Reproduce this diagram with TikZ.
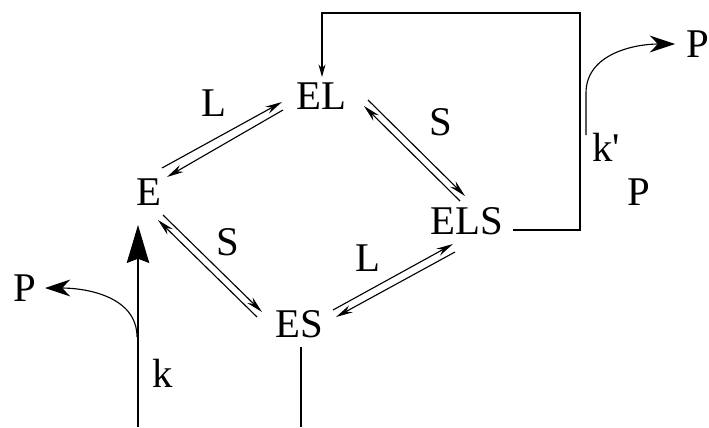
\documentclass[tikz,border=0pt]{standalone}
\usepackage{fontspec}
\setmainfont{Liberation Serif}
\usetikzlibrary{arrows.meta}

\begin{document}
\begin{tikzpicture}[x=0.025cm,y=-0.025cm,line width=0.8pt,
	every node/.style={font=\fontsize{29}{34}\selectfont,inner sep=2pt},
	step arrow/.style={-{Stealth[length=12pt,width=5.5pt]}},
	loop arrow/.style={-{Stealth[length=9pt,width=5pt]}},
	big arrow/.style={-{Stealth[length=27pt,width=16pt,inset=3pt]}},
	bent arrow/.style={-{Stealth[length=18pt,width=12pt]}}]
	\useasboundingbox (0,0) rectangle (709,427);
	% states
	\node (E) at (149,192) {E};
	\node (EL) at (321,96) {EL};
	\node (ELS) at (467,221) {ELS};
	\node (ES) at (299,324) {ES};
	\node (Pl) at (25,288) {P};
	\node (Pr) at (698,44) {P};
	\node (P2) at (639,192) {P};
	% labels
	\node (L1) at (214,103) {L};
	\node (S1) at (441,122) {S};
	\node (S2) at (228,242) {S};
	\node (L2) at (368,258) {L};
	\node (k) at (163,373) {k};
	\node (kp) at (606,147) {k\textquotesingle};
	% free ends
	\coordinate (kin) at (138,427);
	\coordinate (kout) at (137,337);
	\coordinate (esout) at (301,427);
	\coordinate (corner) at (580,13);
	\coordinate (kpout) at (586,135);
	% E <-> EL
	\draw[step arrow] ([shift={(13,-24)}]E.center) -- ([shift={(-39,6)}]EL.center);
	\draw[step arrow] ([shift={(-38,14)}]EL.center) -- ([shift={(18,-15)}]E.center);
	% EL <-> ELS
	\draw[step arrow] ([shift={(47,4)}]EL.center) -- ([shift={(-2,-25)}]ELS.center);
	\draw[step arrow] ([shift={(-7,-20)}]ELS.center) -- ([shift={(43,10)}]EL.center);
	% E <-> ES
	\draw[step arrow] ([shift={(14,23)}]E.center) -- ([shift={(-37,-12)}]ES.center);
	\draw[step arrow] ([shift={(-42,-7)}]ES.center) -- ([shift={(9,28)}]E.center);
	% ES <-> ELS
	\draw[step arrow] ([shift={(34,-14)}]ES.center) -- ([shift={(-14,23)}]ELS.center);
	\draw[step arrow] ([shift={(-12,31)}]ELS.center) -- ([shift={(37,-7)}]ES.center);
	% k step
	\draw[big arrow] (kin) -- ([shift={(-11,33)}]E.center);
	\draw[bent arrow] (kout) to[out=90,in=0] ([shift={(20,0)}]Pl.center);
	\draw (esout) -- ([shift={(2,23)}]ES.center);
	% k' step
	\draw[loop arrow] ([shift={(46,9)}]ELS.center) -| (corner) -| ([shift={(1,-19)}]EL.center);
	\draw[bent arrow] (kpout) -- ++(0,-42) to[out=90,in=180] ([shift={(-23,0)}]Pr.center);
\end{tikzpicture}
\end{document}
